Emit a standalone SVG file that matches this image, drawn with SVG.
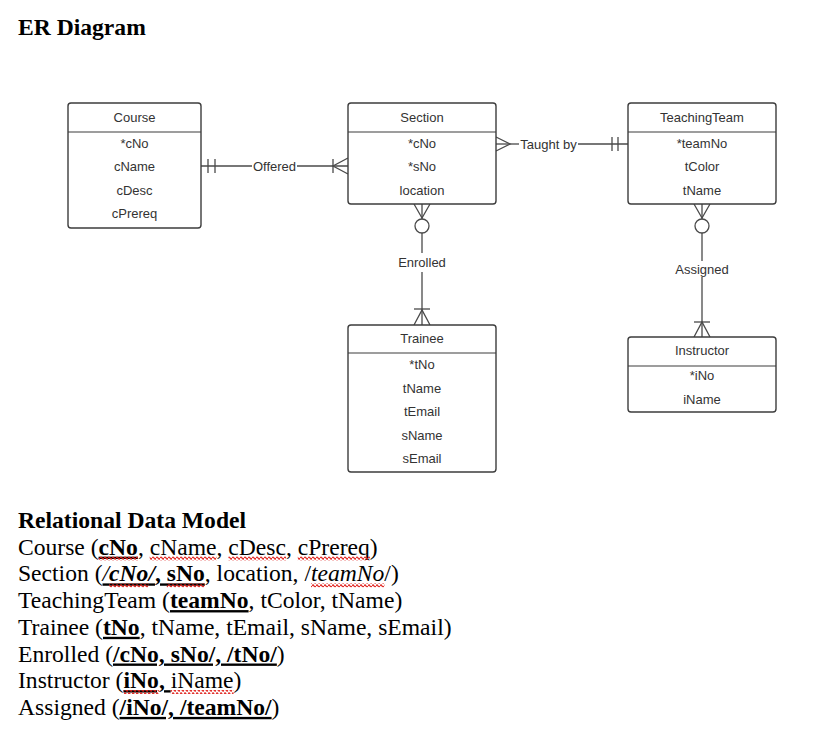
<svg xmlns="http://www.w3.org/2000/svg" width="835" height="738" viewBox="0 0 835 738">
<style>
.box{fill:#fff;stroke:#3d3d3d;stroke-width:1.4}
.sep{stroke:#3d3d3d;stroke-width:1.2}
.t{font-family:"Liberation Sans",Arial,sans-serif;font-size:13px;fill:#333;text-anchor:middle}
.c{fill:none;stroke:#4a4a4a;stroke-width:1.3}
.doc{font-family:"Liberation Serif","Times New Roman",serif;font-size:23.6px;fill:#000}
.b{font-weight:bold}
.i{font-style:italic}
.u{text-decoration:underline}
</style>
<defs>
<pattern id="sq" x="0" y="0" width="4" height="4" patternUnits="userSpaceOnUse">
<path d="M0 2 Q1 -0.2 2 2 Q3 4.2 4 2" fill="none" stroke="#e0201b" stroke-width="1.2"/>
</pattern>
</defs>
<rect width="835" height="738" fill="#fff"/>
<text class="doc b" x="18" y="35">ER Diagram</text>

<g id="connectors">
<!-- Offered -->
<line class="c" x1="201" y1="166" x2="252" y2="166"/>
<line class="c" x1="297" y1="166" x2="348" y2="166"/>
<line class="c" x1="208" y1="159" x2="208" y2="173"/>
<line class="c" x1="215" y1="159" x2="215" y2="173"/>
<line class="c" x1="333" y1="159" x2="333" y2="173"/>
<polyline class="c" points="348,158 333,166 348,174"/>
<text class="t" x="274.5" y="170.5">Offered</text>
<!-- Taught by -->
<line class="c" x1="496" y1="144" x2="519" y2="144"/>
<line class="c" x1="578" y1="144" x2="628" y2="144"/>
<polyline class="c" points="496,137 510,144 496,151"/>
<line class="c" x1="612" y1="137" x2="612" y2="151"/>
<line class="c" x1="618" y1="137" x2="618" y2="151"/>
<text class="t" x="548.5" y="148.5">Taught by</text>
<!-- Enrolled -->
<line class="c" x1="422" y1="204" x2="422" y2="219"/>
<polyline class="c" points="414,204 422,218 430,204"/>
<circle class="c" cx="422" cy="226" r="7"/>
<line class="c" x1="422" y1="233" x2="422" y2="253"/>
<line class="c" x1="422" y1="272" x2="422" y2="325"/>
<line class="c" x1="414" y1="309" x2="430" y2="309"/>
<polyline class="c" points="414,325 422,310 430,325"/>
<text class="t" x="422" y="266.5">Enrolled</text>
<!-- Assigned -->
<line class="c" x1="702" y1="204" x2="702" y2="219"/>
<polyline class="c" points="694,204 702,218 710,204"/>
<circle class="c" cx="702" cy="226" r="7"/>
<line class="c" x1="702" y1="233" x2="702" y2="261"/>
<line class="c" x1="702" y1="277" x2="702" y2="337"/>
<line class="c" x1="694" y1="322" x2="710" y2="322"/>
<polyline class="c" points="694,337 702,322 710,337"/>
<text class="t" x="702" y="273.5">Assigned</text>
</g>

<g id="course">
<rect class="box" x="68" y="103" width="133" height="125" rx="3"/>
<line class="sep" x1="68" y1="132" x2="201" y2="132"/>
<text class="t" x="134.5" y="121.5">Course</text>
<text class="t" x="134.5" y="147.5">*cNo</text>
<text class="t" x="134.5" y="170.5">cName</text>
<text class="t" x="134.5" y="194.5">cDesc</text>
<text class="t" x="134.5" y="217.5">cPrereq</text>
</g>

<g id="section">
<rect class="box" x="348" y="103" width="148" height="101" rx="3"/>
<line class="sep" x1="348" y1="132" x2="496" y2="132"/>
<text class="t" x="422" y="121.5">Section</text>
<text class="t" x="422" y="147.5">*cNo</text>
<text class="t" x="422" y="170.5">*sNo</text>
<text class="t" x="422" y="194.5">location</text>
</g>

<g id="teachingteam">
<rect class="box" x="628" y="103" width="148" height="101" rx="3"/>
<line class="sep" x1="628" y1="132" x2="776" y2="132"/>
<text class="t" x="702" y="121.5">TeachingTeam</text>
<text class="t" x="702" y="147.5">*teamNo</text>
<text class="t" x="702" y="170.5">tColor</text>
<text class="t" x="702" y="194.5">tName</text>
</g>

<g id="trainee">
<rect class="box" x="348" y="325" width="148" height="147" rx="3"/>
<line class="sep" x1="348" y1="353" x2="496" y2="353"/>
<text class="t" x="422" y="342.5">Trainee</text>
<text class="t" x="422" y="369">*tNo</text>
<text class="t" x="422" y="392.5">tName</text>
<text class="t" x="422" y="416">tEmail</text>
<text class="t" x="422" y="439.5">sName</text>
<text class="t" x="422" y="462.5">sEmail</text>
</g>

<g id="instructor">
<rect class="box" x="628" y="337" width="148" height="75" rx="3"/>
<line class="sep" x1="628" y1="366" x2="776" y2="366"/>
<text class="t" x="702" y="354.5">Instructor</text>
<text class="t" x="702" y="380">*iNo</text>
<text class="t" x="702" y="404">iName</text>
</g>

<g id="relational-model">
<text class="doc b" x="18" y="528">Relational Data Model</text>
<text class="doc" x="18" y="554.7">Course (<tspan class="b u">cNo</tspan>, cName, cDesc, cPrereq)</text>
<text class="doc" x="18" y="581.4">Section (<tspan class="i u">/</tspan><tspan class="b i u">cNo/</tspan><tspan class="b u">, sNo</tspan>, location, /<tspan class="i">teamNo</tspan>/)</text>
<text class="doc" x="18" y="608.1">TeachingTeam (<tspan class="b u">teamNo</tspan>, tColor, tName)</text>
<text class="doc" x="18" y="634.8">Trainee (<tspan class="b u">tNo</tspan>, tName, tEmail, sName, sEmail)</text>
<text class="doc" x="18" y="661.5">Enrolled (<tspan class="b u">/cNo, sNo/, /tNo/</tspan>)</text>
<text class="doc" x="18" y="688.2">Instructor (<tspan class="b u">iNo, </tspan>iName)</text>
<text class="doc" x="18" y="714.9">Assigned (<tspan class="b u">/iNo/, /teamNo/</tspan>)</text>
<g id="spelling-marks">
<rect x="98.6" y="556.5" width="39.3" height="4" fill="url(#sq)"/>
<rect x="149.7" y="556.5" width="66.8" height="4" fill="url(#sq)"/>
<rect x="228.4" y="556.5" width="57.7" height="4" fill="url(#sq)"/>
<rect x="297.8" y="556.5" width="72.1" height="4" fill="url(#sq)"/>
<rect x="109.2" y="583.2" width="39.3" height="4" fill="url(#sq)"/>
<rect x="166.8" y="583.2" width="38" height="4" fill="url(#sq)"/>
<rect x="311" y="583.2" width="73.4" height="4" fill="url(#sq)"/>
<rect x="123.5" y="690" width="35.4" height="4" fill="url(#sq)"/>
<rect x="170.7" y="690" width="62.9" height="4" fill="url(#sq)"/>
</g>
</g>
</svg>
